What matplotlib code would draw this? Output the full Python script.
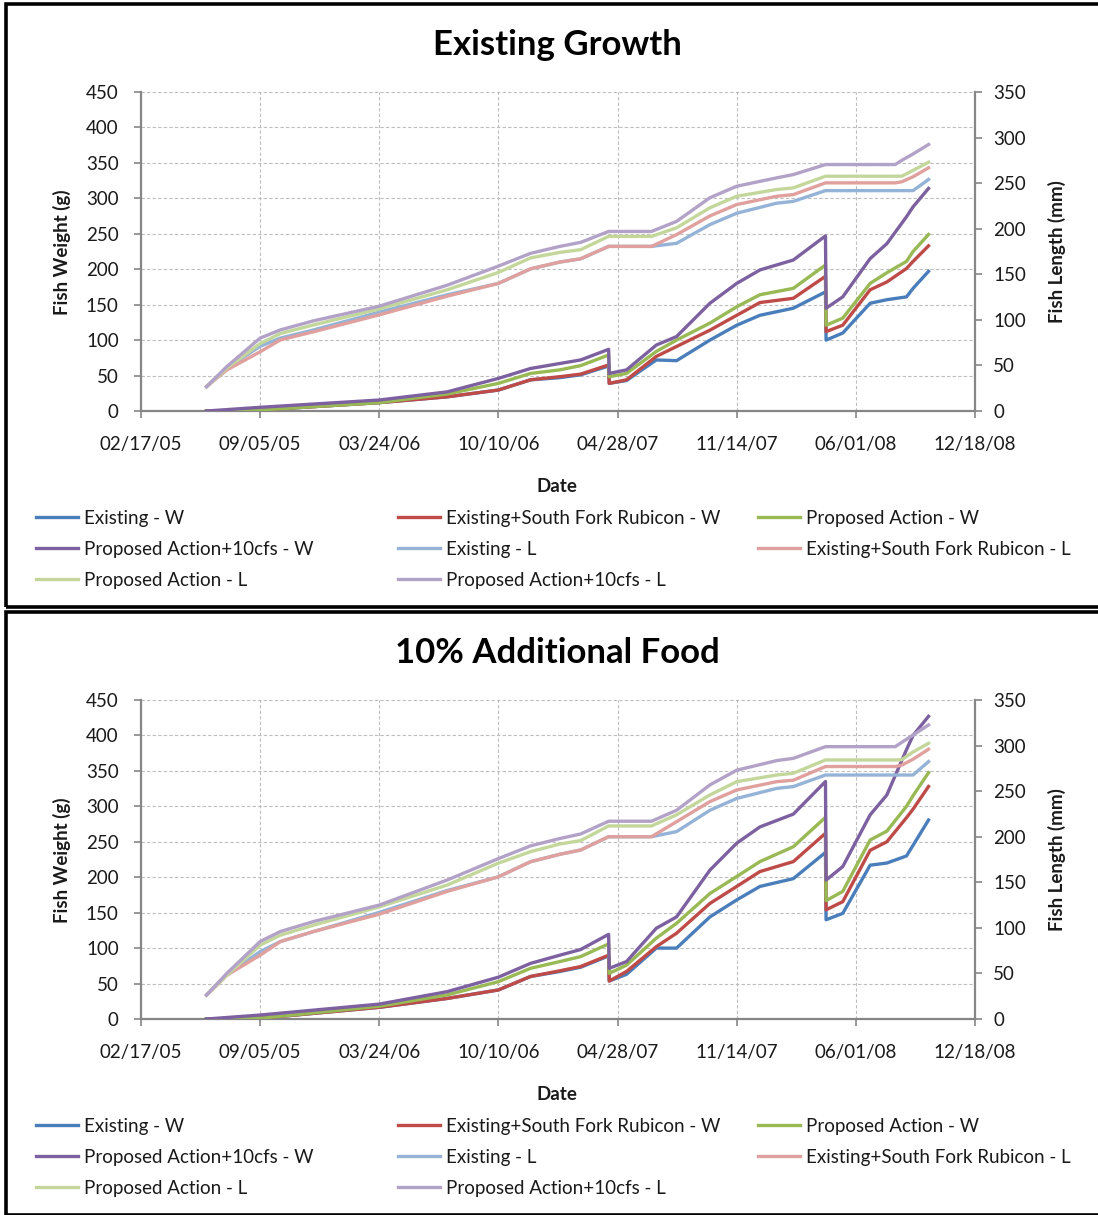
import matplotlib
matplotlib.use('Agg')
import matplotlib.pyplot as plt
import matplotlib.dates as mdates
from matplotlib.patches import Rectangle
import pandas as pd

plt.rcParams['font.family'] = ['Lato', 'DejaVu Sans']

# ---------------- data ----------------
series_names = ["Existing - W", "Existing+South Fork Rubicon - W", "Proposed Action - W",
                "Proposed Action+10cfs - W", "Existing - L", "Existing+South Fork Rubicon - L",
                "Proposed Action - L", "Proposed Action+10cfs - L"]
panel_titles = ["Existing Growth", "10% Additional Food"]

dates_w = ["2005-06-07", "2005-09-05", "2006-03-24", "2006-07-16", "2006-10-10", "2006-12-03",
           "2007-01-21", "2007-02-25", "2007-04-13", "2007-04-14", "2007-05-13", "2007-07-02",
           "2007-08-05", "2007-09-30", "2007-11-14", "2007-12-23", "2008-02-17", "2008-04-11",
           "2008-04-12", "2008-05-10", "2008-06-25", "2008-07-23", "2008-08-25", "2008-09-05",
           "2008-10-01"]
dates_l = ["2005-06-07", "2005-07-11", "2005-09-05", "2005-10-09", "2005-12-04", "2006-03-24",
           "2006-07-16", "2006-10-10", "2006-12-03", "2007-01-21", "2007-02-25", "2007-04-13",
           "2007-06-24", "2007-08-05", "2007-09-30", "2007-11-14", "2008-01-20", "2008-02-17",
           "2008-04-11", "2008-08-06", "2008-08-17", "2008-09-05", "2008-10-01"]

# Panel 1: Existing Growth
p1_exist_w = [0, 1.5, 11.8, 20, 29.6, 44, 47, 51, 63.5, 39, 43, 72, 71, 100, 121, 135, 145, 168,
              100, 110, 152, 157, 161, 173, 197]
p1_sfr_w = [0, 1.5, 11.8, 20, 29.6, 44, 48.4, 52, 65, 39, 44, 77, 91, 114, 135, 153, 159, 190,
            112, 121, 171, 182, 201, 211, 233]
p1_prop_w = [0, 1.5, 11.8, 24, 39, 53, 58, 64, 79, 48.4, 53, 84, 100, 124, 147, 164, 173, 206,
             121, 131, 180, 195, 211, 225, 249]
p1_prop10_w = [0, 5.2, 15.5, 27, 46, 60, 67, 72, 87, 53, 58, 93, 105, 152, 180, 199, 213, 247,
               145, 161, 215, 236, 274, 288, 314]
p1_exist_l = [26.7, 47, 71, 80, 89, 108.5, 127.5, 140, 156, 163.4, 167, 180.6, 180.6, 184, 204.5,
              217, 228, 230, 241.8, 241.8, 241.8, 241.8, 254]
p1_sfr_l = [26.7, 45, 65, 78, 87, 105.5, 126, 140, 156, 163.4, 167, 180.6, 180.6, 193.5, 214,
            226.5, 235.6, 237.4, 250.3, 250.3, 251.5, 257, 266.8]
p1_prop_l = [26.7, 47, 74, 85, 94.5, 112, 133, 152, 168, 174, 177, 191.6, 191.6, 201, 223, 235.6,
             243, 244.8, 257.6, 257.6, 257.6, 264, 273]
p1_prop10_l = [26.7, 48.7, 80, 89, 99, 115, 138, 159, 173, 180.6, 185, 197, 197, 208, 234, 246.6,
               255.8, 259.4, 270.4, 270.4, 275, 282, 292.4]

# Panel 2: 10% Additional Food
p2_exist_w = [0, 1, 16.5, 29, 41, 60, 67, 73, 89, 53.6, 63, 100, 100, 144, 168, 187, 198, 235,
              140, 149, 217, 220, 230, 245, 280.7]
p2_sfr_w = [0, 1, 16.5, 29, 41, 60, 68, 74, 90, 53.6, 67, 102, 121, 163, 187, 208, 222, 262,
            154, 165.5, 238, 250, 284, 296, 328]
p2_prop_w = [0, 1, 18, 34, 52.7, 71.5, 81, 88, 106, 64.4, 76, 114, 135, 177, 201, 222, 243, 284.5,
             167, 180, 252.5, 265, 300, 315, 347.5]
p2_prop10_w = [0, 5.6, 21, 38.6, 59, 78.5, 90, 98, 119.4, 71.5, 81, 128, 144, 210, 248, 271, 289,
               335, 196, 215, 288, 316, 380, 400, 427]
p2_exist_l = [26.3, 48, 74, 85, 96, 117, 141, 156, 172.6, 180.7, 185.4, 200, 200, 205.6, 229, 242,
              253, 255, 267.7, 267.7, 267.7, 267.7, 282.4]
p2_sfr_l = [26.3, 48, 70, 85, 96, 115, 140, 156, 172.6, 180.7, 185.4, 200, 200, 216.5, 238.5,
            251.3, 260.4, 262, 277, 277, 278.5, 285, 296]
p2_prop_l = [26.3, 48, 81, 92, 103, 123, 147, 171, 183.6, 192, 195.7, 211.8, 211.8, 224, 245.8,
             260.4, 267.7, 269.6, 284.2, 284.2, 284.5, 293, 302.5]
p2_prop10_l = [26.3, 50, 85, 96, 107, 125, 152.5, 176, 190, 198, 203, 217, 217, 229, 256.8, 273,
               283.5, 286, 298.8, 298.8, 303.5, 311.6, 322.6]

x_start = "2005-02-17"
x_end = "2008-12-18"
tick_step_days = 200

# ---------------- styling ----------------
colors = ['#4A7EBB', '#BE4B48', '#98B954', '#7D60A0',
          '#95B3D7', '#E0A09E', '#C4D79B', '#B3A2C7']
TXT = '#1a1a1a'
AX = '#868686'
FS = 13.5

W, H = 1098, 1215
fig = plt.figure(figsize=(W / 100, H / 100), dpi=100)


def fx(px):
    return px / W


def fy(py):
    return 1 - py / H


panels = [
    dict(title=panel_titles[0], w=[p1_exist_w, p1_sfr_w, p1_prop_w, p1_prop10_w],
         l=[p1_exist_l, p1_sfr_l, p1_prop_l, p1_prop10_l], off=0),
    dict(title=panel_titles[1], w=[p2_exist_w, p2_sfr_w, p2_prop_w, p2_prop10_w],
         l=[p2_exist_l, p2_sfr_l, p2_prop_l, p2_prop10_l], off=608),
]

dw = pd.to_datetime(dates_w)
dl = pd.to_datetime(dates_l)
xticks = pd.date_range(x_start, x_end, freq=f"{tick_step_days}D")

for p in panels:
    off = p['off']
    # panel border
    fig.patches.append(Rectangle((fx(6), fy(off + 607)), fx(1100) - fx(6), fy(off + 4) - fy(off + 607),
                                 transform=fig.transFigure, fill=False, edgecolor='black',
                                 linewidth=2.6, zorder=0))
    top_px, bot_px = off + 92, off + 411
    ax = fig.add_axes([fx(141), fy(bot_px), fx(975) - fx(141), fy(top_px) - fy(bot_px)])
    ax2 = ax.twinx()

    handles = []
    for i, ys in enumerate(p['w']):
        h, = ax.plot(dw, ys, color=colors[i], lw=2.4, solid_joinstyle='round', zorder=3,
                     label=series_names[i])
        handles.append(h)
    for j, ys in enumerate(p['l']):
        h, = ax2.plot(dl, ys, color=colors[4 + j], lw=2.4, solid_joinstyle='round',
                      label=series_names[4 + j])
        handles.append(h)

    ax.set_xlim(pd.Timestamp(x_start), pd.Timestamp(x_end))
    ax.set_ylim(0, 450)
    ax2.set_ylim(0, 350)
    ax.set_yticks(range(0, 451, 50))
    ax2.set_yticks(range(0, 351, 50))
    ax.set_xticks(xticks)
    ax.xaxis.set_major_formatter(mdates.DateFormatter('%m/%d/%y'))

    ax.grid(True, which='major', color='#BDBDBD', linestyle=(0, (3, 2)), linewidth=0.8)
    ax.set_axisbelow(True)

    for a in (ax, ax2):
        for s in a.spines.values():
            s.set_color(AX)
            s.set_linewidth(1.6)
        a.spines['top'].set_visible(False)
    ax.spines['right'].set_visible(False)
    ax2.spines['left'].set_visible(False)
    ax2.spines['bottom'].set_visible(False)

    ax.tick_params(axis='both', direction='out', length=5, width=1.2, color=AX,
                   labelsize=FS, labelcolor=TXT)
    ax.tick_params(axis='y', pad=11)
    ax.tick_params(axis='x', pad=13)
    ax2.tick_params(axis='y', direction='out', length=5, width=1.2, color=AX,
                    labelsize=FS, labelcolor=TXT, pad=8)

    fig.text(fx(557), fy(off + 45), p['title'], fontsize=25, fontweight='bold', ha='center',
             va='center', color='black')
    fig.text(fx(557), fy(off + 486), "Date", fontsize=FS, fontweight='bold', ha='center',
             va='center', color=TXT)
    fig.text(fx(62), fy(off + 252), "Fish Weight (g)", fontsize=FS, fontweight='bold',
             ha='center', va='center', rotation=90, color=TXT)
    fig.text(fx(1057), fy(off + 252), "Fish Length (mm)", fontsize=FS, fontweight='bold',
             ha='center', va='center', rotation=90, color=TXT)

    # legend: three evenly spaced columns (row-major order)
    col_x = [40, 402, 762]
    for c in range(3):
        hs = handles[c::3]
        fig.legend(hs, [h.get_label() for h in hs], loc='upper left',
                   bbox_to_anchor=(fx(col_x[c]) - 0.0035, fy(off + 510)), frameon=False,
                   fontsize=FS, handlelength=2.25, handletextpad=0.32, labelspacing=0.74,
                   borderpad=0, borderaxespad=0, labelcolor=TXT)

fig.savefig('out.png', dpi=100)
